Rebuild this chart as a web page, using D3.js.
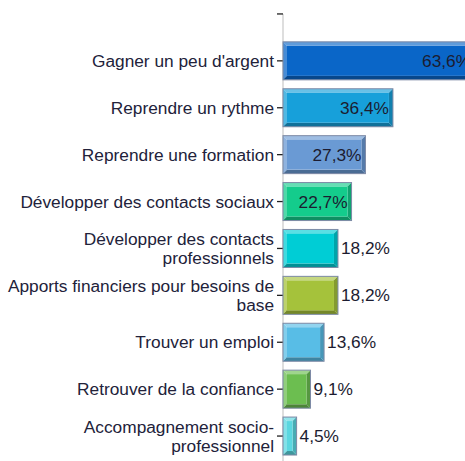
<!DOCTYPE html>
<html><head><meta charset="utf-8">
<script src="https://cdn.jsdelivr.net/npm/d3@7"></script>
<style>body{margin:0;background:#fff;overflow:hidden}svg{display:block}</style>
</head><body>
<script>
const categories = ["", "Gagner un peu d'argent", "Reprendre un rythme", "Reprendre une formation",
  "Développer des contacts sociaux", "Développer des contacts|professionnels",
  "Apports financiers pour besoins de|base", "Trouver un emploi", "Retrouver de la confiance",
  "Accompagnement socio-|professionnel"];
const values = [null, 63.6, 36.4, 27.3, 22.7, 18.2, 18.2, 13.6, 9.1, 4.5];
const valueLabels = ["", "63,6%", "36,4%", "27,3%", "22,7%", "18,2%", "18,2%", "13,6%", "9,1%", "4,5%"];
const colors = [null, "#0a66c8", "#17a0da", "#6a9ad4", "#14cc8c", "#00cdd5", "#a5c23b", "#58bde6", "#6cbe50", "#5ad7e0"];
const insideLabel = [false, true, true, true, true, false, false, false, false, false];

const W = 465, H = 461;
const svg = d3.select("body").append("svg").attr("width", W).attr("height", H);
const x0 = 283;
const x = d3.scaleLinear().domain([0, 10]).range([x0, x0 + 30.2]);
const y = d3.scaleBand().domain(categories.map((c, i) => i)).range([-9.5, 459.5]).paddingInner(0.19).paddingOuter(0.095);
const font = "'Liberation Sans', Arial, sans-serif";
const fs = 17.3;

// axis
const g = svg.append("g");
g.append("line").attr("x1", x0).attr("x2", x0).attr("y1", y(0) + y.bandwidth() / 2).attr("y2", H)
  .attr("stroke", "#c8c8c8").attr("stroke-width", 1.2);
categories.forEach((c, i) => {
  const cy = y(i) + y.bandwidth() / 2;
  g.append("line").attr("x1", x0 - 6).attr("x2", x0).attr("y1", cy).attr("y2", cy).attr("stroke", "#222").attr("stroke-width", 1.3);
  const lines = c ? c.split("|") : [];
  const t = g.append("text").attr("text-anchor", "end").attr("font-family", font).attr("font-size", fs)
    .attr("fill", "#22223a");
  lines.forEach((l, k) => {
    t.append("tspan").attr("x", x0 - 9).attr("y", cy + 6 + (k - (lines.length - 1) / 2) * 19).text(l);
  });
});

function shade(c, k) { return k > 0 ? d3.interpolateRgb(c, "#fff")(k) : d3.interpolateRgb(c, "#000")(-k); }

values.forEach((v, i) => {
  if (v == null) return;
  const x1 = x(0), x2 = x(v), y1 = y(i), y2 = y(i) + y.bandwidth();
  const b = 4, c = colors[i];
  const bg = svg.append("g");
  const poly = pts => bg.append("polygon").attr("points", pts.map(p => p.join(",")).join(" "));
  poly([[x1, y1], [x2, y1], [x2 - b, y1 + b], [x1 + b, y1 + b]]).attr("fill", shade(c, 0.35));
  poly([[x1, y1], [x1 + b, y1 + b], [x1 + b, y2 - b], [x1, y2]]).attr("fill", shade(c, 0.25));
  poly([[x1, y2], [x1 + b, y2 - b], [x2 - b, y2 - b], [x2, y2]]).attr("fill", shade(c, -0.3));
  poly([[x2, y1], [x2, y2], [x2 - b, y2 - b], [x2 - b, y1 + b]]).attr("fill", shade(c, -0.2));
  bg.append("rect").attr("x", x1 + b).attr("y", y1 + b).attr("width", Math.max(0, x2 - x1 - 2 * b)).attr("height", y2 - y1 - 2 * b).attr("fill", c);
  bg.append("rect").attr("x", x1).attr("y", y1).attr("width", x2 - x1).attr("height", y2 - y1)
    .attr("fill", "none").attr("stroke", "#7d8aa6").attr("stroke-width", 1);
  const cy = (y1 + y2) / 2;
  svg.append("text").attr("font-family", font).attr("font-size", fs).attr("fill", "#1c1c30")
    .attr("x", insideLabel[i] ? x2 - 4 : x2 + 3).attr("y", cy + 6)
    .attr("text-anchor", insideLabel[i] ? "end" : "start").text(valueLabels[i]);
});
</script>
</body></html>
